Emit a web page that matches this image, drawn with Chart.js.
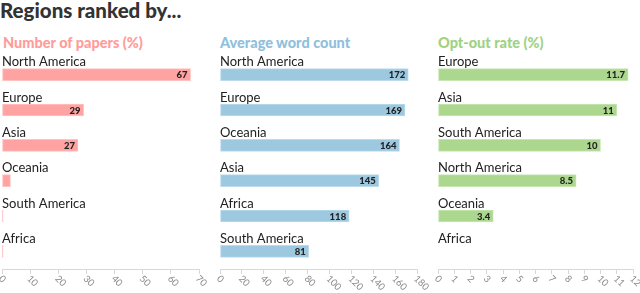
<!DOCTYPE html>
<html>
<head>
<meta charset="utf-8">
<script src="https://cdn.jsdelivr.net/npm/chart.js@4/dist/chart.umd.min.js"></script>
<style>
  html, body { margin: 0; padding: 0; background: #fff; }
  body { width: 640px; height: 293px; position: relative; overflow: hidden; font-family: Lato, "Noto Sans", sans-serif; }
  .main { position: absolute; left: 0; top: -2px; font-size: 20.5px; font-weight: 900; color: #333; white-space: nowrap; }
  .pt { position: absolute; top: 34px; font-size: 14.5px; font-weight: 900; white-space: nowrap; }
  canvas { position: absolute; top: 0; }
</style>
</head>
<body>
<div class="main">Regions ranked by...</div>
<div class="pt" id="t1" style="left:3px;color:#ff9c9a;"></div>
<div class="pt" id="t2" style="left:220px;color:#8fc0dc;"></div>
<div class="pt" id="t3" style="left:438px;color:#9fd284;"></div>
<canvas id="c1" width="215" height="293" style="left:0px;width:215px;height:293px"></canvas>
<canvas id="c2" width="215" height="293" style="left:215px;width:215px;height:293px"></canvas>
<canvas id="c3" width="210" height="293" style="left:430px;width:210px;height:293px"></canvas>
<script>
// ---- data ----
const panelTitles = ["Number of papers (%)", "Average word count", "Opt-out rate (%)"];

const papersRegions = ["North America", "Europe", "Asia", "Oceania", "South America", "Africa"];
const papersValues  = [67, 29, 27, 3, 0.4, 0.4];

const wordRegions = ["North America", "Europe", "Oceania", "Asia", "Africa", "South America"];
const wordValues  = [172, 169, 164, 145, 118, 81];

const optoutRegions = ["Europe", "Asia", "South America", "North America", "Oceania", "Africa"];
const optoutValues  = [11.7, 11, 10, 8.5, 3.4, 0];

const papersTicks = { max: 70, step: 10 };
const wordTicks   = { max: 180, step: 20 };
const optoutTicks = { max: 12, step: 1 };

document.getElementById('t1').textContent = panelTitles[0];
document.getElementById('t2').textContent = panelTitles[1];
document.getElementById('t3').textContent = panelTitles[2];

const FONT = 'Lato, "Noto Sans", sans-serif';

const labelPlugin = {
  id: 'barLabels',
  afterDatasetsDraw(chart) {
    const ctx = chart.ctx;
    const meta = chart.getDatasetMeta(0);
    const labels = chart.data.labels;
    const vals = chart.data.datasets[0].data;
    ctx.save();
    meta.data.forEach((bar, i) => {
      ctx.font = '13px ' + FONT;
      ctx.fillStyle = '#222';
      ctx.textAlign = 'left';
      ctx.textBaseline = 'alphabetic';
      ctx.fillText(labels[i], chart.chartArea.left, bar.y - 8.5);
      const w = bar.x - bar.base;
      if (w > 20) {
        ctx.font = '900 9.5px ' + FONT;
        ctx.fillStyle = '#222';
        ctx.textAlign = 'right';
        ctx.textBaseline = 'middle';
        ctx.fillText(String(vals[i]), bar.x - 3, bar.y + 0.5);
      }
    });
    const xs = chart.scales.x;
    ctx.font = '9.5px ' + FONT;
    ctx.fillStyle = '#888';
    ctx.textAlign = 'left';
    ctx.textBaseline = 'middle';
    xs.ticks.forEach(t => {
      const x = xs.getPixelForValue(t.value);
      ctx.save();
      ctx.translate(x - 1.5, chart.chartArea.bottom + 8);
      ctx.rotate(Math.PI / 4);
      ctx.fillText(String(t.value), 0, 0);
      ctx.restore();
    });
    ctx.restore();
  }
};

function makePanel(id, labels, values, fill, border, tk, padL, padR) {
  new Chart(document.getElementById(id), {
    type: 'bar',
    data: {
      labels: labels,
      datasets: [{
        data: values,
        backgroundColor: fill,
        borderColor: border,
        borderWidth: 1,
        borderSkipped: false,
        barThickness: 12
      }]
    },
    options: {
      indexAxis: 'y',
      responsive: false,
      animation: false,
      events: [],
      layout: { padding: { top: 57, bottom: 0, left: padL, right: padR } },
      plugins: { legend: { display: false }, tooltip: { enabled: false } },
      scales: {
        y: { display: false, offset: true },
        x: {
          min: 0, max: tk.max,
          ticks: { display: false, stepSize: tk.step },
          grid: { display: true, drawOnChartArea: false, drawTicks: true, tickLength: 5, color: '#d8d8d8' },
          border: { display: true, color: '#d8d8d8' },
          afterFit: s => { s.height = 24; }
        }
      }
    },
    plugins: [labelPlugin]
  });
}

makePanel('c1', papersRegions, papersValues, '#ffa3a2', '#ffc2c1', papersTicks, 2, 16);
makePanel('c2', wordRegions, wordValues, '#9cc8e0', '#bddbec', wordTicks, 5, 13);
makePanel('c3', optoutRegions, optoutValues, '#acd78e', '#c8e6b4', optoutTicks, 8, 7);
</script>
</body>
</html>
